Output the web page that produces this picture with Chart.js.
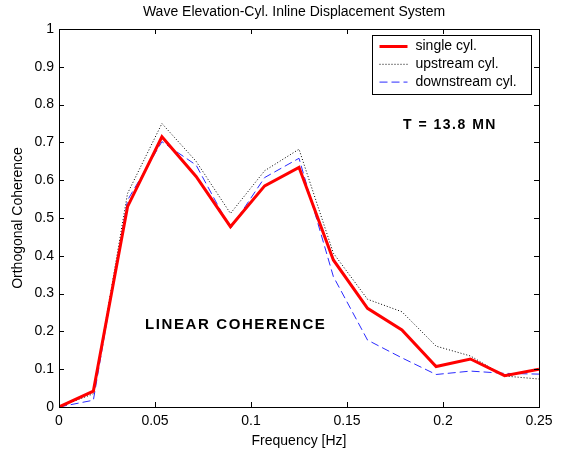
<!DOCTYPE html>
<html>
<head>
<meta charset="utf-8">
<script src="https://cdn.jsdelivr.net/npm/chart.js@4.4.1/dist/chart.umd.min.js"></script>
<style>
  html, body { margin: 0; padding: 0; background: #fff; }
  #wrap { width: 563px; height: 452px; position: relative; }
</style>
</head>
<body>
<div id="wrap"><canvas id="mycanvas"></canvas></div>
<script>
// frequency bins (Hz)
var freq = [0, 0.0179, 0.0357, 0.0536, 0.0714, 0.0893, 0.1071, 0.125, 0.1429, 0.1607, 0.1786, 0.1964, 0.2143, 0.2321, 0.25];

var single = [0, 0.042, 0.53, 0.715, 0.61, 0.477, 0.585, 0.634, 0.389, 0.261, 0.204, 0.107, 0.127, 0.083, 0.10];
var upstream = [0, 0.035, 0.565, 0.75, 0.65, 0.512, 0.625, 0.682, 0.407, 0.285, 0.252, 0.161, 0.135, 0.082, 0.074];
var downstream = [0, 0.018, 0.547, 0.702, 0.64, 0.472, 0.607, 0.658, 0.345, 0.177, 0.13, 0.086, 0.095, 0.089, 0.087];

var xTicks = [0, 0.05, 0.1, 0.15, 0.2, 0.25];
var yTicks = [0, 0.1, 0.2, 0.3, 0.4, 0.5, 0.6, 0.7, 0.8, 0.9, 1];

var FONT = 'Arial, "Liberation Sans", Helvetica, sans-serif';

function pairs(ys) {
  var out = [];
  for (var i in freq) out.push({ x: freq[i], y: ys[i] });
  return out;
}

// box, inward ticks, title, legend and annotations
var matlabAxes = {
  id: 'matlabAxes',
  afterDraw: function(chart) {
    var c = chart.ctx, a = chart.chartArea;
    var sx = chart.scales.x, sy = chart.scales.y;
    c.save();
    c.strokeStyle = '#000';
    c.lineWidth = 1;
    c.setLineDash([]);
    c.strokeRect(Math.round(a.left) + 0.5, Math.round(a.top) + 0.5,
                 Math.round(a.right - a.left), Math.round(a.bottom - a.top));
    c.beginPath();
    xTicks.forEach(function(v) {
      var px = Math.round(sx.getPixelForValue(v)) + 0.5;
      c.moveTo(px, a.bottom); c.lineTo(px, a.bottom - 5);
      c.moveTo(px, a.top); c.lineTo(px, a.top + 5);
    });
    yTicks.forEach(function(v) {
      var py = Math.round(sy.getPixelForValue(v)) + 0.5;
      c.moveTo(a.left, py); c.lineTo(a.left + 5, py);
      c.moveTo(a.right, py); c.lineTo(a.right - 5, py);
    });
    c.stroke();

    c.fillStyle = '#000';
    c.font = '14px ' + FONT;
    c.textAlign = 'center';
    c.textBaseline = 'middle';
    c.fillText('Wave Elevation-Cyl. Inline Displacement System', 294, 12);

    // legend box
    var lx = 372.5, ly = 35.5, lw = 159, lh = 59;
    c.fillStyle = '#fff';
    c.fillRect(lx, ly, lw, lh);
    c.strokeStyle = '#000';
    c.lineWidth = 1;
    c.strokeRect(lx, ly, lw, lh);
    chart.data.datasets.forEach(function(ds, i) {
      var yy = ly + 11 + i * 17.8;
      c.strokeStyle = ds.borderColor;
      c.lineWidth = ds.borderWidth;
      c.setLineDash(ds.borderDash || []);
      c.beginPath();
      c.moveTo(lx + 7, yy); c.lineTo(lx + 35, yy);
      c.stroke();
      c.setLineDash([]);
      c.fillStyle = '#000';
      c.font = '14px ' + FONT;
      c.textAlign = 'left';
      c.fillText(ds.label, lx + 43, yy);
    });

    c.fillStyle = '#000';
    c.textAlign = 'left';
    c.font = 'bold 14px ' + FONT;
    c.letterSpacing = '1.5px';
    c.fillText('T = 13.8 MN', 403, 125);
    c.font = 'bold 15px ' + FONT;
    c.letterSpacing = '1.6px';
    c.fillText('LINEAR COHERENCE', 145, 325);
    c.restore();
  }
};

var ctx = document.getElementById('mycanvas');

var lineGraph = new Chart(ctx, {
  type: 'line',
  data: {
    datasets: [
      {
        label: 'single cyl.',
        data: pairs(single),
        borderColor: '#ff0000',
        borderWidth: 3,
        pointRadius: 0,
        tension: 0
      },
      {
        label: 'upstream cyl.',
        data: pairs(upstream),
        borderColor: '#000000',
        borderWidth: 1,
        borderDash: [1, 2],
        pointRadius: 0,
        tension: 0
      },
      {
        label: 'downstream cyl.',
        data: pairs(downstream),
        borderColor: '#2a2aff',
        borderWidth: 1,
        borderDash: [8, 4],
        pointRadius: 0,
        tension: 0
      }
    ]
  },
  options: {
    responsive: true,
    maintainAspectRatio: false,
    animation: false,
    events: [],
    layout: { padding: { left: 0, right: 24, top: 29, bottom: 0 } },
    plugins: {
      legend: { display: false },
      title: { display: false },
      tooltip: { enabled: false }
    },
    scales: {
      x: {
        type: 'linear',
        min: 0,
        max: 0.25,
        afterBuildTicks: function(s) { s.ticks = xTicks.map(function(v) { return { value: v }; }); },
        afterFit: function(s) { s.height = 45; },
        grid: { display: false, drawTicks: false },
        border: { display: false },
        ticks: {
          color: '#000',
          font: { family: FONT, size: 14 },
          padding: 6,
          maxRotation: 0,
          callback: function(v) { return String(+v.toFixed(2)); }
        },
        title: {
          display: true,
          text: 'Frequency [Hz]',
          color: '#000',
          font: { family: FONT, size: 14 },
          padding: { top: 2, bottom: 2 }
        }
      },
      y: {
        min: 0,
        max: 1,
        afterBuildTicks: function(s) { s.ticks = yTicks.map(function(v) { return { value: v }; }); },
        afterFit: function(s) { s.width = 59; },
        grid: { display: false, drawTicks: false },
        border: { display: false },
        ticks: {
          color: '#000',
          font: { family: FONT, size: 14 },
          padding: 5,
          callback: function(v) { return String(+v.toFixed(1)); }
        },
        title: {
          display: true,
          text: 'Orthogonal Coherence',
          color: '#000',
          font: { family: FONT, size: 14 },
          padding: { top: 10, bottom: 0 }
        }
      }
    }
  },
  plugins: [matlabAxes]
});
</script>
</body>
</html>
